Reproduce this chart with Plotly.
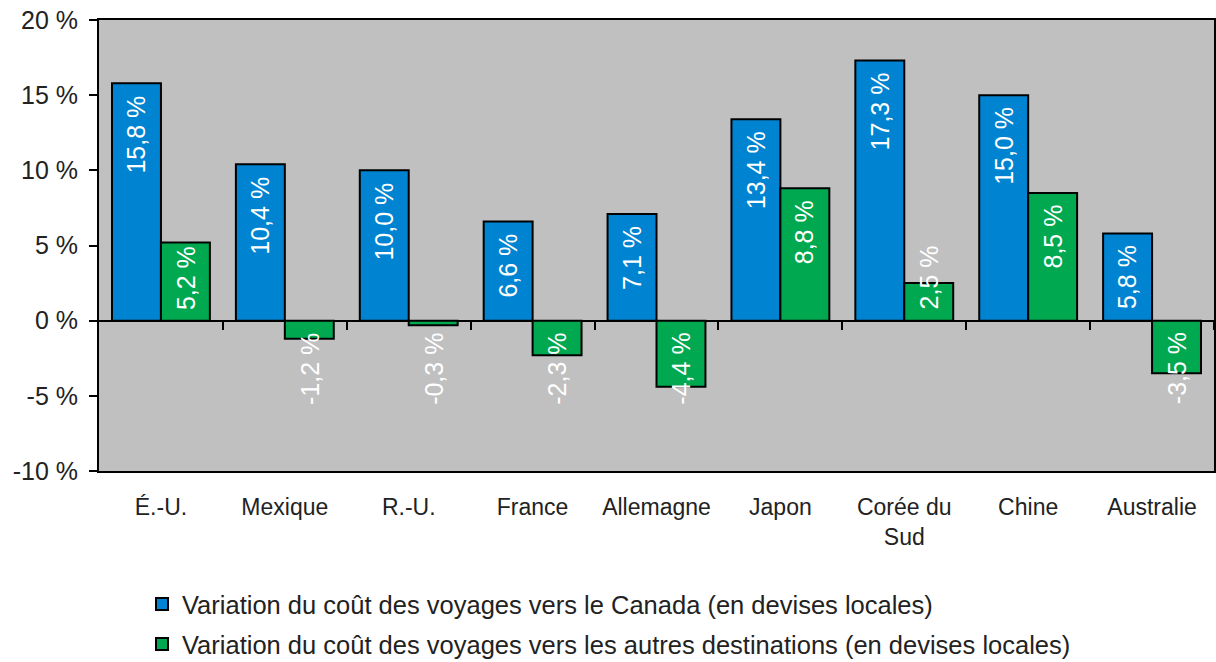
import plotly.graph_objects as go

categories = ["É.-U.", "Mexique", "R.-U.", "France", "Allemagne", "Japon", "Corée du<br>Sud", "Chine", "Australie"]
canada_values = [15.8, 10.4, 10.0, 6.6, 7.1, 13.4, 17.3, 15.0, 5.8]
other_values = [5.2, -1.2, -0.3, -2.3, -4.4, 8.8, 2.5, 8.5, -3.5]
series_names = [
    "Variation du coût des voyages vers le Canada (en devises locales)",
    "Variation du coût des voyages vers les autres destinations (en devises locales)",
]
y_ticks = [-10, -5, 0, 5, 10, 15, 20]
y_tick_labels = [f"{v} %" for v in y_ticks]

BLUE = "#0084D1"
GREEN = "#00A850"
GRAY = "#C0C0C0"
FONT = "Liberation Sans"
TEXT = "#222222"
BARGAP = 0.21
Y_RANGE = [-10, 20]

W, H = 1216, 662
PLOT_TOP, PLOT_BOTTOM, PLOT_LEFT, PLOT_RIGHT = 20, 471, 99, 1214
PLOT_H = PLOT_BOTTOM - PLOT_TOP
PLOT_W = PLOT_RIGHT - PLOT_LEFT
PX_PER_UNIT = PLOT_H / (Y_RANGE[1] - Y_RANGE[0])

fig = go.Figure()
idx = list(range(len(categories)))
fig.add_trace(go.Bar(x=idx, y=canada_values, name=series_names[0],
                     marker=dict(color=BLUE, line=dict(color="black", width=2)), legend="legend"))
fig.add_trace(go.Bar(x=idx, y=other_values, name=series_names[1],
                     marker=dict(color=GREEN, line=dict(color="black", width=2)), legend="legend2"))


def fmt(v):
    return (f"{v:.1f}").replace(".", ",") + " %"


half = (1 - BARGAP) / 4
annotations = []
for series, offset in ((canada_values, -half), (other_values, half)):
    for i, v in enumerate(series):
        txt = fmt(v)
        est_len = 13 * len(txt)
        pad = 11
        if v > 0 and v * PX_PER_UNIT >= est_len + 2 * pad:
            y, ya, ys = v, "top", -pad + 1
        elif v > 0:
            y, ya, ys = 0, "bottom", pad - 2
        else:
            y, ya, ys = 0, "top", -pad + 1
        annotations.append(dict(x=i + offset, y=y, xref="x", yref="y", text=txt, textangle=-90,
                                showarrow=False, yanchor=ya, yshift=ys,
                                font=dict(family=FONT, size=25, color="white")))

fig.update_layout(
    width=W, height=H,
    margin=dict(l=PLOT_LEFT, r=W - PLOT_RIGHT, t=PLOT_TOP, b=H - PLOT_BOTTOM, autoexpand=False),
    paper_bgcolor="white", plot_bgcolor=GRAY,
    barmode="group", bargap=BARGAP, bargroupgap=0,
    font=dict(family=FONT, size=24, color=TEXT),
    annotations=annotations,
    xaxis=dict(tickmode="array", tickvals=idx, ticktext=categories, range=[-0.5, len(categories) - 0.5],
               showline=True, linecolor="black", linewidth=2, mirror=True, ticks="",
               showgrid=False, zeroline=False, ticklabelstandoff=14, automargin=False,
               tickfont=dict(family=FONT, size=23, color=TEXT)),
    xaxis2=dict(overlaying="x", anchor="free", position=(0 - Y_RANGE[0]) / (Y_RANGE[1] - Y_RANGE[0]),
                range=[-0.5, len(categories) - 0.5], tickmode="array",
                tickvals=[i + 0.5 for i in idx], ticks="outside", ticklen=8, tickwidth=2,
                tickcolor="black", showticklabels=False, showline=False, showgrid=False,
                zeroline=False, automargin=False),
    yaxis=dict(range=Y_RANGE, tickmode="array", tickvals=y_ticks, ticktext=y_tick_labels,
               showline=True, linecolor="black", linewidth=2, mirror=True,
               ticks="outside", ticklen=8, tickwidth=2, tickcolor="black", ticklabelstandoff=6,
               showgrid=False, zeroline=True, zerolinecolor="black", zerolinewidth=2, automargin=False,
               tickfont=dict(family=FONT, size=25, color=TEXT)),
    legend=dict(x=(142 - PLOT_LEFT) / PLOT_W, y=(PLOT_BOTTOM - 581) / PLOT_H, xanchor="left", yanchor="top",
                bgcolor="rgba(0,0,0,0)", font=dict(family=FONT, size=25.5, color=TEXT)),
    legend2=dict(x=(142 - PLOT_LEFT) / PLOT_W, y=(PLOT_BOTTOM - 621) / PLOT_H, xanchor="left", yanchor="top",
                 bgcolor="rgba(0,0,0,0)", font=dict(family=FONT, size=25.5, color=TEXT)),
)
# invisible helper trace so the zero-line tick axis renders
fig.add_trace(go.Scatter(x=[0], y=[0], xaxis="x2", mode="markers", marker=dict(opacity=0),
                         showlegend=False, hoverinfo="skip"))

fig.write_html("out.html", config={"displayModeBar": False},
               post_script="document.body.style.margin='0';document.body.style.overflow='hidden';")
